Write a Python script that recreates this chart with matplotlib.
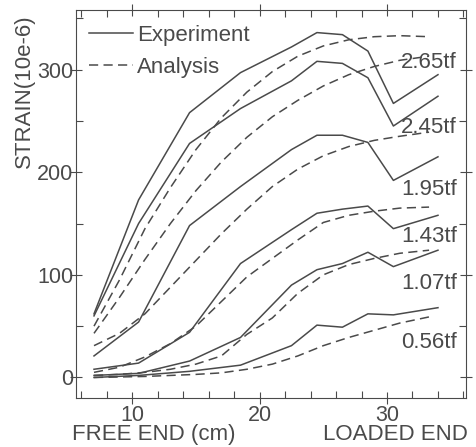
import matplotlib
matplotlib.use('Agg')
import matplotlib.pyplot as plt
from matplotlib.ticker import MultipleLocator

plt.rcParams['font.family'] = ['Liberation Sans', 'DejaVu Sans']
plt.rcParams['font.size'] = 16

ink = '#4a4a4a'

# measurement points (cm from free end)
x_exp = [7, 10.5, 14.5, 18.5, 22.5, 24.5, 26.5, 28.5, 30.5, 34]
# analysis curve sample points
x_ana = [7, 9, 11, 13, 15, 17, 19, 21, 23, 25, 27, 29, 31, 33.3]

loads = ['2.65tf', '2.45tf', '1.95tf', '1.43tf', '1.07tf', '0.56tf']

exp_265 = [62, 173, 258, 297, 322, 336, 334, 318, 267, 295]
exp_245 = [60, 150, 228, 262, 289, 308, 306, 292, 245, 274]
exp_195 = [21, 54, 148, 186, 222, 236, 236, 229, 192, 215]
exp_143 = [8, 14, 44, 111, 144, 160, 164, 167, 145, 158]
exp_107 = [2, 4, 16, 39, 90, 105, 111, 122, 108, 124]
exp_056 = [0, 2, 6, 12, 31, 51, 49, 62, 61, 68]

ana_265 = [50, 95, 145, 185, 222, 253, 278, 298, 313, 323, 329, 332, 333, 332]
ana_245 = [43, 78, 115, 150, 182, 210, 234, 254, 270, 284, 295, 303, 309, 313]
ana_195 = [31, 43, 62, 88, 114, 140, 164, 186, 203, 216, 225, 231, 235, 239]
ana_143 = [5, 10, 20, 33, 50, 74, 98, 116, 134, 151, 158, 162, 165, 166]
ana_107 = [2, 3, 5, 8, 13, 21, 42, 58, 82, 100, 110, 116, 121, 124]
ana_056 = [0, 0.5, 1, 2, 3, 4.5, 8, 13, 21, 31, 39, 46, 53, 59]

exp_all = [exp_265, exp_245, exp_195, exp_143, exp_107, exp_056]
ana_all = [ana_265, ana_245, ana_195, ana_143, ana_107, ana_056]

# label positions (y in strain units)
label_y = [307, 244, 183, 137, 92, 34]

fig = plt.figure(figsize=(4.76, 4.47), dpi=100)
ax = fig.add_axes([0.160, 0.1096, 0.819, 0.868])

for i, (ye, ya) in enumerate(zip(exp_all, ana_all)):
    ax.plot(x_exp, ye, '-', color=ink, lw=1.1,
            label='Experiment' if i == 0 else None)
    ax.plot(x_ana, ya, '--', color=ink, lw=1.1, dashes=(6, 3.5),
            label='Analysis' if i == 0 else None)
    ax.text(35.5, label_y[i], loads[i], ha='right', va='center',
            color=ink, fontsize=16)

ax.set_xlim(5.6, 36.2)
ax.set_ylim(-20, 358)
ax.xaxis.set_major_locator(MultipleLocator(10))
ax.xaxis.set_minor_locator(MultipleLocator(2))
ax.yaxis.set_major_locator(MultipleLocator(100))
ax.yaxis.set_minor_locator(MultipleLocator(50))
ax.tick_params(which='major', direction='inout', length=8, width=0.8,
               color=ink, labelcolor=ink, labelsize=15.5, pad=1,
               top=True, right=True)
ax.tick_params(axis='y', which='major', pad=-2)
ax.tick_params(which='minor', direction='in', length=5, width=0.8,
               color=ink, top=True, right=True)
for s in ax.spines.values():
    s.set_color(ink)
    s.set_linewidth(0.8)

ax.text(-0.132, 0.79, 'STRAIN(10e-6)', transform=ax.transAxes,
        rotation=90, ha='center', va='center', color=ink, fontsize=16)
ax.text(0.2, -0.095, 'FREE END (cm)', transform=ax.transAxes,
        ha='center', va='center', color=ink, fontsize=16)
ax.text(1.005, -0.095, 'LOADED END', transform=ax.transAxes,
        ha='right', va='center', color=ink, fontsize=16)

leg = ax.legend(loc='upper left', bbox_to_anchor=(0.033, 0.962), frameon=False,
                handlelength=2.0, handletextpad=0.15, labelspacing=0.5,
                borderaxespad=0, borderpad=0, fontsize=16)
for t in leg.get_texts():
    t.set_color(ink)

fig.savefig('out.png', dpi=100)
